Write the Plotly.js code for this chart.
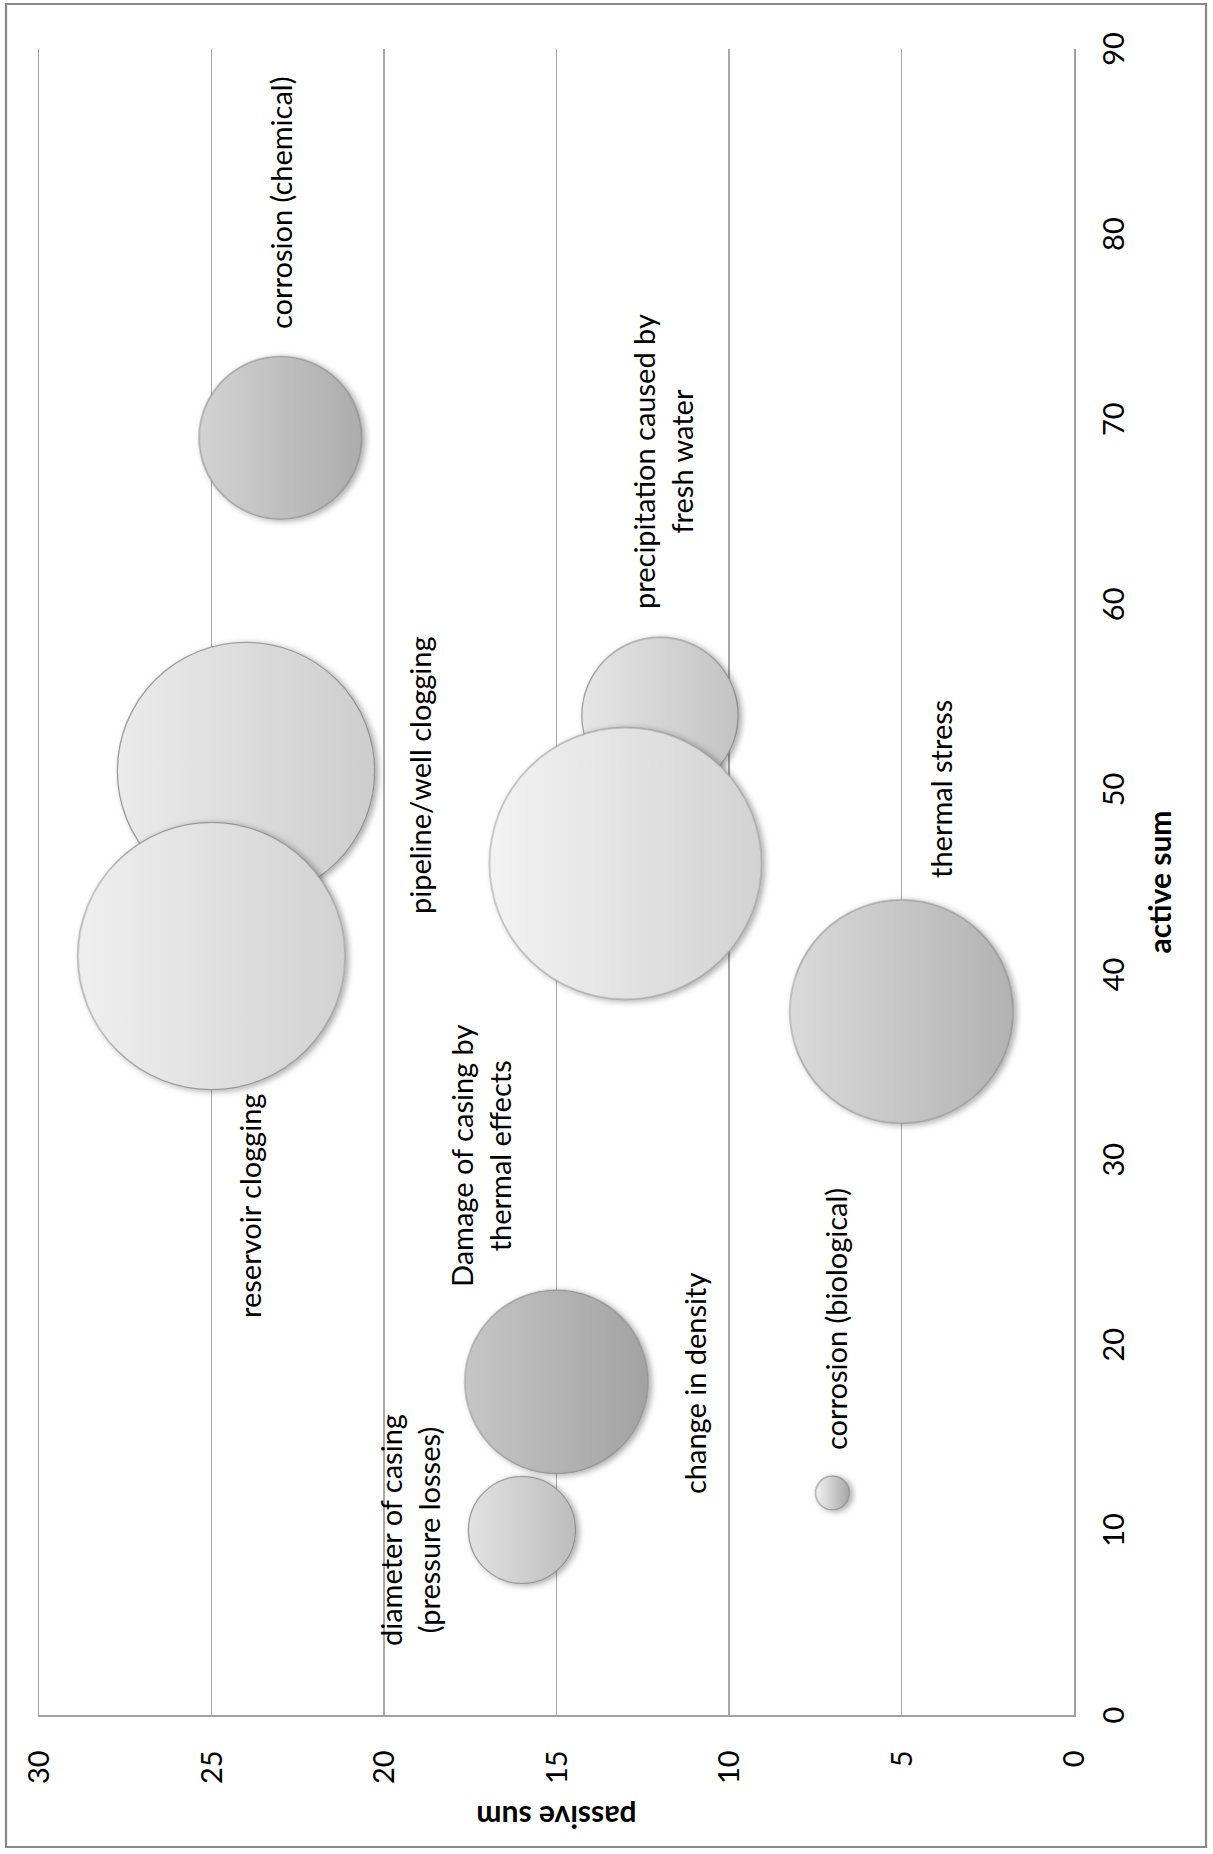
<!DOCTYPE html>
<html>
<head>
<meta charset="utf-8">
<title>Active and passive sums of risk factors</title>
<script src="https://cdn.plot.ly/plotly-3.0.1.min.js"></script>
<style>
  html, body { margin: 0; padding: 0; background: #ffffff; overflow: hidden; }
  #stage { position: absolute; left: 0; top: 0; width: 1213px; height: 1854px; overflow: hidden; }
  /* the chart is laid out landscape and turned a quarter turn counter-clockwise */
  #chart {
    position: absolute; left: 0; top: 0;
    width: 1854px; height: 1213px;
    transform-origin: 0 0;
    transform: translate(0, 1854px) rotate(-90deg);
  }
</style>
</head>
<body>
<div id="stage"><div id="chart"></div></div>
<script>
// ---- data -------------------------------------------------------------
const risks = [
  'pipeline/well clogging',
  'reservoir clogging',
  'corrosion (chemical)',
  'precipitation caused by fresh water',
  'change in density',
  'thermal stress',
  'diameter of casing (pressure losses)',
  'Damage of casing by thermal effects',
  'corrosion (biological)'
];
const activeSum  = [51, 41, 69, 54, 46, 38, 10, 18, 12];
const passiveSum = [24, 25, 23, 12, 13,  5, 16, 15,  7];
const weight     = [17.9, 19.3, 7.15, 6.6, 20, 13.5, 3.1, 9.1, 0.31];

// label text (line breaks as printed) and where each label sits, in axis units
const labelText = [
  'pipeline/well clogging',
  'reservoir clogging',
  'corrosion (chemical)',
  'precipitation caused by<br>fresh water',
  'change in density',
  'thermal stress',
  'diameter of casing<br>(pressure losses)',
  'Damage of casing by<br>thermal effects',
  'corrosion (biological)'
];
const labelActive  = [50.8, 27.5, 81.7, 67.7, 17.9, 50.0, 10.0, 30.2, 21.4];
const labelPassive = [18.96, 23.9, 23.0, 11.94, 11.0, 3.88, 19.25, 17.19, 6.9];

const activeTicks  = [0, 10, 20, 30, 40, 50, 60, 70, 80, 90];
const passiveTicks = [0, 5, 10, 15, 20, 25, 30];

// ---- styling ----------------------------------------------------------
const bubbleLight = ['#ebebeb', '#efefef', '#d3d3d3', '#e6e6e6', '#f3f3f3', '#dadada', '#e2e2e2', '#c6c6c6', '#f2f2f2'];
const bubbleDark  = ['#cdcdcd', '#d2d2d2', '#acacac', '#c3c3c3', '#d2d2d2', '#b2b2b2', '#bdbdbd', '#a2a2a2', '#a6a6a6'];

const FONT = 'Lato, "Open Sans", "Liberation Sans", sans-serif';
const W = 1854, H = 1213;
const M = { l: 139, r: 49, t: 39, b: 139 };
const plotW = W - M.l - M.r, plotH = H - M.t - M.b;
const largestRadius = 136;   // px radius of the heaviest bubble

// outer frame of the chart, converted to paper units
const frame = { left: 7, right: 1850, top: 6, bottom: 1206 };
const toPaperX = px => (px - M.l) / plotW;
const toPaperY = py => (H - M.b - py) / plotH;

const trace = {
  type: 'scatter',
  mode: 'markers',
  x: activeSum,
  y: passiveSum,
  text: risks,
  hoverinfo: 'text',
  marker: {
    size: weight,
    sizemode: 'area',
    sizeref: Math.max(...weight) / (2 * largestRadius * largestRadius),
    color: bubbleLight,
    opacity: 1,
    gradient: { type: 'vertical', color: bubbleDark },
    line: { color: 'rgba(125,125,125,0.75)', width: 1.2 }
  },
  cliponaxis: false
};

const annotations = labelText.map((t, i) => ({
  x: labelActive[i], y: labelPassive[i],
  xref: 'x', yref: 'y',
  text: t, showarrow: false,
  xanchor: 'center', yanchor: 'middle', align: 'center',
  font: { family: FONT, size: 29, color: '#000000' }
}));

const layout = {
  width: W, height: H,
  margin: M,
  paper_bgcolor: '#ffffff',
  plot_bgcolor: '#ffffff',
  showlegend: false,
  font: { family: FONT, size: 29, color: '#000000' },
  xaxis: {
    range: [0, 90],
    tickvals: activeTicks,
    ticktext: activeTicks.map(String),
    showgrid: false,
    zeroline: false,
    showline: true, mirror: true, linecolor: '#a0a0a0', linewidth: 1.5,
    ticks: '',
    ticklabelstandoff: 14,
    tickfont: { family: FONT, size: 29, color: '#000000' },
    automargin: false,
    title: { text: 'active sum', standoff: 20, font: { family: FONT, size: 30, weight: 'bold', color: '#000000' } }
  },
  yaxis: {
    range: [0, 30],
    tickvals: passiveTicks,
    ticktext: passiveTicks.map(String),
    showgrid: true, gridcolor: '#a8a8a8', gridwidth: 1.4,
    zeroline: false,
    showline: true, linecolor: '#a0a0a0', linewidth: 1.5,
    ticks: '',
    ticklabelstandoff: 28,
    tickfont: { family: FONT, size: 29, color: '#000000' },
    automargin: false,
    title: { text: 'passive sum', standoff: 12, font: { family: FONT, size: 30, weight: 'bold', color: '#000000' } }
  },
  shapes: [{
    type: 'rect', xref: 'paper', yref: 'paper', layer: 'below',
    x0: toPaperX(frame.left), x1: toPaperX(frame.right),
    y0: toPaperY(frame.bottom), y1: toPaperY(frame.top),
    line: { color: '#888888', width: 2.2 },
    fillcolor: 'rgba(0,0,0,0)'
  }],
  annotations: annotations
};

Plotly.newPlot('chart', [trace], layout, { displayModeBar: false, staticPlot: true }).then(gd => {
  // soft drop shadow under the bubbles
  const svg = gd.querySelector('svg.main-svg');
  const ns = 'http://www.w3.org/2000/svg';
  let defs = svg.querySelector('defs');
  if (!defs) { defs = document.createElementNS(ns, 'defs'); svg.insertBefore(defs, svg.firstChild); }
  const filter = document.createElementNS(ns, 'filter');
  filter.setAttribute('id', 'bubbleShadow');
  filter.setAttribute('x', '-20%'); filter.setAttribute('y', '-20%');
  filter.setAttribute('width', '140%'); filter.setAttribute('height', '140%');
  const drop = document.createElementNS(ns, 'feDropShadow');
  drop.setAttribute('dx', '-1.5'); drop.setAttribute('dy', '3');
  drop.setAttribute('stdDeviation', '3');
  drop.setAttribute('flood-color', '#000000');
  drop.setAttribute('flood-opacity', '0.35');
  filter.appendChild(drop);
  defs.appendChild(filter);
  gd.querySelectorAll('.scatterlayer .points path').forEach(p => p.setAttribute('filter', 'url(#bubbleShadow)'));
});
</script>
</body>
</html>
